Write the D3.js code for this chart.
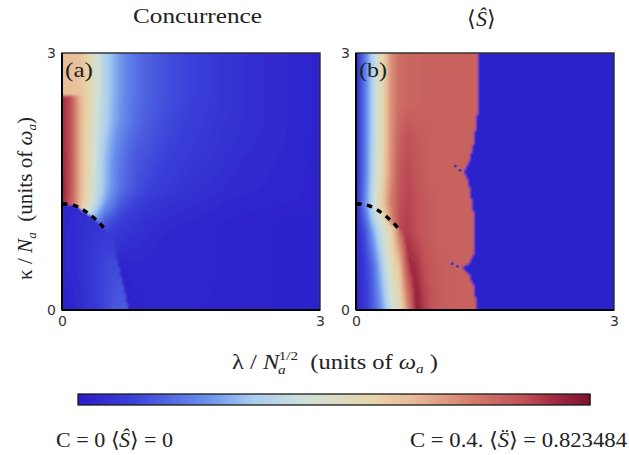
<!DOCTYPE html>
<html><head><meta charset="utf-8">
<script src="https://cdn.jsdelivr.net/npm/d3@7/dist/d3.min.js"></script>
<style>html,body{margin:0;padding:0;background:#fff}svg{display:block}</style>
</head><body><svg id="c" width="629" height="455"></svg>
<script>
// ---- data ----
const lambdaCols = [0,.1,.2,.3,.4,.5,.6,.7,.8,.9,1,1.2,1.5,2,3];

const aUpperKappa = [3,2.52,2.49,2.2,1.8,1.4,1.25,1,.8,.5,0];
const aUpper = [
 [.64,.64,.63,.58,.46,.37,.30,.25,.21,.18,.16,.13,.10,.06,.02],
 [.63,.63,.62,.58,.46,.37,.30,.25,.21,.18,.16,.13,.10,.06,.02],
 [.93,.87,.68,.57,.46,.37,.30,.25,.21,.18,.16,.13,.10,.06,.02],
 [.93,.87,.68,.56,.45,.36,.29,.24,.20,.17,.15,.12,.09,.06,.02],
 [.94,.87,.68,.55,.43,.32,.25,.20,.16,.14,.13,.10,.08,.05,.02],
 [.95,.87,.68,.54,.42,.31,.24,.18,.15,.12,.10,.08,.06,.04,.02],
 [.94,.85,.68,.52,.38,.27,.20,.14,.11,.09,.08,.06,.05,.03,.02],
 [.60,.55,.45,.34,.22,.13,.10,.08,.07,.06,.05,.04,.03,.02,.01],
 [.30,.25,.20,.15,.12,.09,.07,.06,.05,.05,.04,.03,.03,.02,.01],
 [.10,.10,.09,.08,.06,.04,.02,.02,.03,.03,.03,.03,.03,.02,.01],
 [.02,.02,.02,.02,.02,.02,.01,.01,.015,.02,.025,.03,.025,.02,.01]];
const aLowerKappa = [1.3,.9,.5,0];
const aLower = [
 [.02,.03,.04,.05,.06,.07,.07,.07,.07,.07,.07,.07,.07,.07,.07],
 [.03,.04,.05,.06,.07,.08,.08,.08,.08,.08,.08,.08,.08,.08,.08],
 [.03,.04,.05,.07,.09,.11,.12,.12,.12,.12,.12,.12,.12,.12,.12],
 [.01,.02,.04,.06,.08,.11,.14,.15,.15,.15,.15,.15,.15,.15,.15]];
const aCritLambda = [0,.07,.17,.29,.40,.50,.55,.60,.65,.72,.77];
const aCritKappa  = [1.24,1.235,1.21,1.14,1.05,.945,.90,.82,.55,.25,0];

const bUpperKappa = [3,2.4,2,1.6,1.24,.9,.5,0];
const bUpper = [
 [.04,.20,.38,.55,.72,.80,.82,.82,.83,.83,.83,.83,.83,.83,.83],
 [.04,.20,.38,.55,.72,.80,.82,.82,.83,.83,.83,.83,.83,.83,.83],
 [.04,.20,.38,.55,.72,.83,.87,.85,.84,.83,.83,.83,.83,.83,.83],
 [.04,.20,.39,.56,.73,.85,.88,.86,.84,.83,.83,.83,.83,.83,.83],
 [.05,.22,.42,.60,.76,.86,.89,.87,.85,.84,.83,.83,.83,.83,.83],
 [.03,.12,.28,.43,.70,.88,.90,.87,.85,.84,.83,.83,.83,.83,.83],
 [.03,.08,.18,.34,.60,.85,.95,.92,.87,.85,.84,.83,.83,.83,.83],
 [.02,.07,.15,.26,.41,.60,.85,.97,.90,.86,.84,.83,.83,.83,.83]];
const bLowerKappa = [1.3,1.2,.9,.5,0];
const bLower = [
 [.04,.22,.42,.60,.76,.86,.89,.89,.89,.89,.89,.89,.89,.89,.89],
 [.04,.20,.42,.53,.66,.80,.87,.89,.89,.89,.89,.89,.89,.89,.89],
 [.03,.12,.28,.43,.56,.78,.93,.93,.93,.93,.93,.93,.93,.93,.93],
 [.03,.08,.18,.34,.50,.62,.88,.96,.96,.96,.96,.96,.96,.96,.96],
 [.02,.07,.15,.26,.41,.52,.73,.95,.96,.96,.96,.96,.96,.96,.96]];
const bCritLambda = [0,.50,.55,.60,.65,.70];
const bCritKappa  = [1.24,.945,.88,.65,.35,0];
const bEdgeKappa  = [0,.12,.29,.41,.49,.56,.64,.82,1.17,1.34,1.52,1.575,1.61,1.75,1.98,2.37,3];
const bEdgeLambda = [1.40,1.39,1.36,1.31,1.24,1.32,1.36,1.37,1.36,1.33,1.30,1.26,1.25,1.32,1.37,1.42,1.42];
const bSpeckLambda = [1.155,1.21,1.12,1.18];
const bSpeckKappa  = [1.68,1.63,.54,.51];

const dashLambda = [0,.07,.17,.29,.40,.50];
const dashKappa  = [1.24,1.235,1.21,1.14,1.05,.945];

const colorStops = [0,.1,.25,.34,.447,.575,.655,.77,.87,.93,1];
const colorHexes = ["#2a1cc8","#3a40d8","#6a90ec","#a8cdee","#d0e0d8","#e8d4a8","#e8b896","#d27c6a","#c05058","#a02a40","#7c1030"];
const tickValues = [0,3];

// ---- drawing ----
const svg = d3.select("#c");
const color = d3.scaleLinear().domain(colorStops).range(colorHexes).clamp(true);
const defs = svg.append("defs");
defs.append("filter").attr("id","soft").attr("x","-5%").attr("y","-5%").attr("width","110%").attr("height","110%")
  .append("feGaussianBlur").attr("stdDeviation",1);

function lookup(kappas, rows, lam, kap){
  const at = r => d3.scaleLinear().domain(lambdaCols).range(r)(lam);
  let i = 0;
  while(i < kappas.length-2 && kap < kappas[i+1]) i++;
  const f = (kappas[i]-kap)/(kappas[i]-kappas[i+1]);
  const ff = Math.max(0,Math.min(1,f));
  return at(rows[i])*(1-ff)+at(rows[i+1])*ff;
}

const ySize = 257, xSize = 258, top0 = 53;
function panel(id, left, valueAt){
  const x = d3.scaleLinear().domain([0,3]).range([0,xSize]);
  const y = d3.scaleLinear().domain([0,3]).range([ySize,0]);
  const g = svg.append("g").attr("transform",`translate(${left},${top0})`);
  defs.append("clipPath").attr("id","clip"+id).append("rect").attr("width",xSize).attr("height",ySize);
  const cells = [];
  const step = 2;
  d3.range(-2,xSize+2,step).forEach(px=>d3.range(-2,ySize+2,step).forEach(py=>{
    cells.push({px,py,lam:Math.max(0,x.invert(px+step/2)),kap:Math.max(0,y.invert(py+step/2))});
  }));
  const holder = g.append("g").attr("clip-path",`url(#clip${id})`).append("g").attr("filter","url(#soft)");
  holder.selectAll("rect").data(cells).join("rect")
    .attr("x",d=>d.px).attr("y",d=>d.py).attr("width",step+.5).attr("height",step+.5)
    .attr("fill",d=>color(valueAt(d.lam,d.kap)));
  return {g,x,y};
}

const critA = d3.scaleLinear().domain(aCritLambda).range(aCritKappa);
const critB = d3.scaleLinear().domain(bCritLambda).range(bCritKappa);
const edgeB = d3.scaleLinear().domain(bEdgeKappa).range(bEdgeLambda);

const pa = panel("a",62,(l,k)=>{
  const c = l>aCritLambda[aCritLambda.length-1] ? -1 : critA(l);
  return k>=c ? lookup(aUpperKappa,aUpper,l,k) : lookup(aLowerKappa,aLower,l,k);
});
const pb = panel("b",356,(l,k)=>{
  if(l>edgeB(k)) return 0.01;
  const c = l>bCritLambda[bCritLambda.length-1] ? -1 : critB(l);
  return k>=c ? lookup(bUpperKappa,bUpper,l,k) : lookup(bLowerKappa,bLower,l,k);
});

pb.g.selectAll("circle.speck").data(bSpeckLambda).join("circle").attr("class","speck")
  .attr("cx",d=>pb.x(d)).attr("cy",(d,i)=>pb.y(bSpeckKappa[i])).attr("r",1.4).attr("fill","#3a30cc");

[[pa,"(a)"],[pb,"(b)"]].forEach(([p,lab])=>{
  const {g,x,y} = p;
  const line = d3.line().x(d=>x(d[0])).y(d=>y(d[1])).curve(d3.curveMonotoneX);
  g.append("path").datum(d3.zip(dashLambda,dashKappa)).attr("d",line)
    .attr("fill","none").attr("stroke","#000").attr("stroke-width",3.4).attr("stroke-dasharray","5.5 5.5");
  g.append("rect").attr("width",xSize).attr("height",ySize).attr("fill","none").attr("stroke","#2a2a2a").attr("stroke-width",1.4);
  g.append("line").attr("x1",0).attr("x2",0).attr("y1",0).attr("y2",ySize).attr("stroke","#000").attr("stroke-width",2);
  g.append("line").attr("x1",0).attr("x2",xSize).attr("y1",ySize).attr("y2",ySize).attr("stroke","#000").attr("stroke-width",2);
  const ax = g.append("g").attr("transform",`translate(0,${ySize})`).call(d3.axisBottom(x).tickValues(tickValues).tickSize(0).tickPadding(6).tickFormat(d3.format("d")));
  const ay = g.append("g").call(d3.axisLeft(y).tickValues(tickValues).tickSize(0).tickPadding(6).tickFormat(d3.format("d")));
  [ax,ay].forEach(a=>{a.select(".domain").remove();
    a.selectAll("text").attr("font-family","'DejaVu Sans'").attr("font-size",14).attr("fill","#333");});
  g.append("text").attr("x",3).attr("y",24).attr("font-family","'Liberation Serif'").attr("font-size",22).attr("fill","#222")
    .attr("textLength",28).attr("lengthAdjust","spacingAndGlyphs").text(lab);
});

const serif = "'Liberation Serif'";
function txt(x,y,len,size){
  const t = svg.append("text").attr("x",x).attr("y",y).attr("font-family",serif).attr("font-size",size).attr("fill","#222");
  if(len) t.attr("textLength",len).attr("lengthAdjust","spacingAndGlyphs");
  return t;
}
txt(133,23,129,22).text("Concurrence");
const sT = txt(467,26,29,22);
sT.append("tspan").text("⟨"); sT.append("tspan").attr("font-style","italic").text("Ŝ"); sT.append("tspan").text("⟩");

// x label
const xl = txt(232,369,206,21);
xl.append("tspan").text("λ / ");
xl.append("tspan").attr("font-style","italic").text("N");
xl.append("tspan").attr("font-style","italic").attr("font-size",13).attr("dy",5).attr("dx",-1).text("a");
xl.append("tspan").attr("font-size",13).attr("dy",-14).attr("dx",-6).text("1/2");
xl.append("tspan").attr("dy",9).text("\u00a0\u00a0(units of ");
xl.append("tspan").attr("font-style","italic").text("ω");
xl.append("tspan").attr("font-style","italic").attr("font-size",13).attr("dy",4).text("a");
xl.append("tspan").attr("dy",-4).text("\u00a0)");

// y label
const yl = svg.append("text").attr("transform","translate(32,280) rotate(-90)").attr("font-family",serif)
  .attr("font-size",21).attr("fill","#222").attr("textLength",163).attr("lengthAdjust","spacingAndGlyphs");
yl.append("tspan").text("κ / ");
yl.append("tspan").attr("font-style","italic").text("N");
yl.append("tspan").attr("font-style","italic").attr("font-size",13).attr("dy",4).text("a");
yl.append("tspan").attr("dy",-4).text("\u00a0\u00a0(units of ");
yl.append("tspan").attr("font-style","italic").text("ω");
yl.append("tspan").attr("font-style","italic").attr("font-size",13).attr("dy",4).text("a");
yl.append("tspan").attr("dy",-4).text(")");

// colour bar
const cbX = d3.scaleLinear().domain([0,1]).range([78,590]);
const cb = svg.append("g");
cb.selectAll("rect").data(d3.range(0,1,1/256)).join("rect")
  .attr("x",d=>cbX(d)).attr("y",394).attr("width",cbX(1/256)-cbX(0)+.5).attr("height",11).attr("fill",d=>color(d));
cb.append("rect").attr("x",cbX(0)).attr("y",394).attr("width",cbX(1)-cbX(0)).attr("height",11)
  .attr("fill","none").attr("stroke","#1a1a1a").attr("stroke-width",1.3);

const l1 = txt(56,447,117,21);
l1.append("tspan").text("C = 0 ⟨"); l1.append("tspan").attr("font-style","italic").text("Ŝ"); l1.append("tspan").text("⟩ = 0");
const l2 = txt(410,447,217,21);
l2.append("tspan").text("C = 0.4. ⟨"); l2.append("tspan").attr("font-style","italic").text("S\u0308"); l2.append("tspan").text("⟩ = 0.823484");
</script></body></html>
